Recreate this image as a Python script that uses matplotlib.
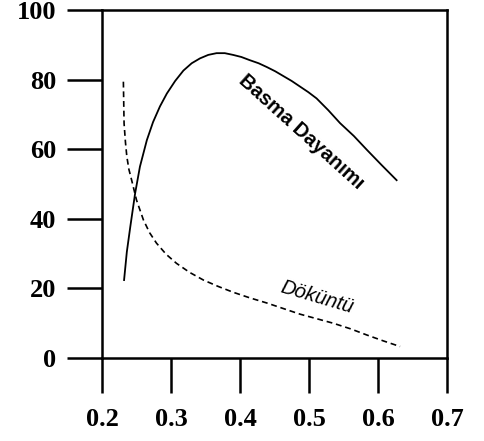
import matplotlib
matplotlib.use('Agg')
import matplotlib.pyplot as plt

# Basma Dayanımı (solid) and Döküntü (dashed) curves
basma_x = [0.232, 0.236, 0.241, 0.248, 0.255, 0.265, 0.274, 0.284, 0.294, 0.306,
           0.318, 0.330, 0.342, 0.354, 0.366, 0.378, 0.390, 0.402, 0.414, 0.427,
           0.439, 0.451, 0.463, 0.475, 0.487, 0.499, 0.511, 0.528, 0.545, 0.565,
           0.584, 0.605, 0.627]
basma_y = [22.4, 30.5, 37.7, 47.3, 55.0, 62.6, 67.8, 72.3, 76.0, 79.6,
           82.6, 84.7, 86.1, 87.1, 87.6, 87.6, 87.1, 86.5, 85.6, 84.7,
           83.6, 82.4, 81.0, 79.6, 78.0, 76.4, 74.6, 71.2, 67.5, 63.8,
           59.8, 55.5, 51.1]

dok_x = [0.231, 0.232, 0.234, 0.236, 0.239, 0.243, 0.250, 0.260, 0.269, 0.279,
         0.293, 0.308, 0.327, 0.347, 0.368, 0.390, 0.414, 0.439, 0.463, 0.487,
         0.511, 0.535, 0.560, 0.584, 0.608, 0.632]
dok_y = [79.4, 67.4, 62.0, 57.9, 54.2, 51.1, 45.4, 39.7, 36.0, 33.0,
         29.8, 27.2, 24.6, 22.4, 20.6, 18.9, 17.3, 15.8, 14.2, 12.6,
         11.3, 10.0, 8.4, 6.6, 4.9, 3.3]

xticks = [0.2, 0.3, 0.4, 0.5, 0.6, 0.7]
yticks = [0, 20, 40, 60, 80, 100]

fig = plt.figure(figsize=(4.85, 4.41), dpi=100)
ax = fig.add_axes([0.2103, 0.1882, 0.7113, 0.7891])

ax.plot(basma_x, basma_y, color='black', lw=1.3)
ax.plot(dok_x, dok_y, color='black', lw=1.2, dashes=(3.5, 2.3))

ax.set_xlim(0.2, 0.7)
ax.set_ylim(0, 100)
ax.set_xticks(xticks)
ax.set_yticks(yticks)
ax.set_xticklabels([f'{v:.1f}' for v in xticks])
ax.set_yticklabels([str(v) for v in yticks])
for lab in ax.get_xticklabels() + ax.get_yticklabels():
    lab.set_family('Liberation Serif')
    lab.set_fontsize(19)
    lab.set_weight('bold')
ax.tick_params(axis='both', direction='out', length=25, width=1.8, color='black')
ax.tick_params(axis='x', pad=11)
ax.tick_params(axis='y', pad=8)
for s in ax.spines.values():
    s.set_linewidth(1.8)

ax.text(0.489, 65, 'Basma Dayanımı', rotation=-42, ha='center', va='center',
        family='Liberation Sans', weight='bold', fontsize=14.5, rotation_mode='anchor')
ax.text(0.511, 17.5, 'Döküntü', rotation=-16.5, ha='center', va='center',
        family='Liberation Sans', style='italic', fontsize=14.5, rotation_mode='anchor')

fig.savefig('out.png', dpi=100)
